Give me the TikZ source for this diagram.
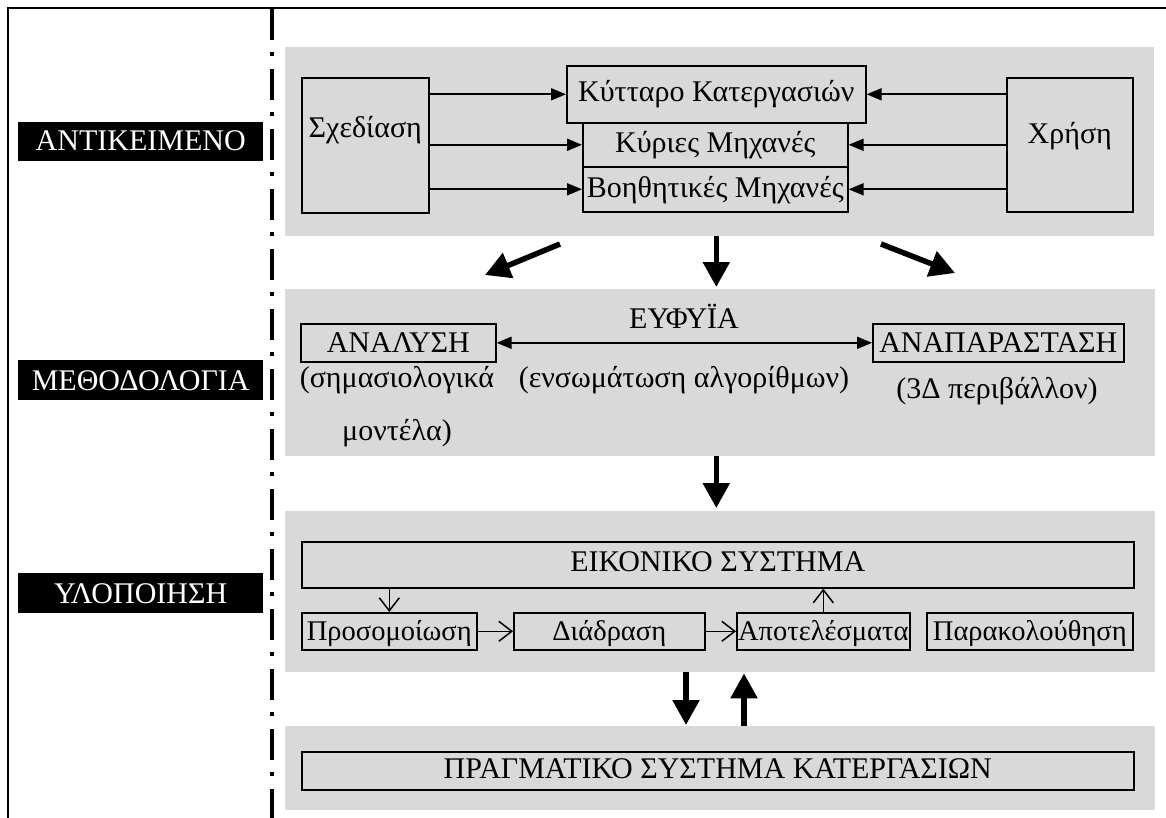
\documentclass[tikz,border=0pt]{standalone}
\usepackage{fontspec}
\setmainfont{Liberation Serif}
\usetikzlibrary{arrows.meta}
\definecolor{panelgray}{HTML}{D9D9D9}
\newcommand\bigtxt{\fontsize{30pt}{36pt}\selectfont}
\newcommand\rowtxt{\fontsize{28.5pt}{34pt}\selectfont}
\begin{document}
\begin{tikzpicture}[x=1pt,y=-1pt,
  panel/.style={fill=panelgray, inner sep=0pt, anchor=north west},
  bx/.style={draw, line width=1.6pt, inner sep=0pt, anchor=north west, font=\bigtxt},
  rowbx/.style={bx, font=\rowtxt, text height=28pt, text depth=9pt},
  tag/.style={fill=black, text=white, inner sep=0pt, anchor=north west, font=\bigtxt,
    minimum width=245pt},
  txt/.style={font=\bigtxt, inner sep=0pt, anchor=base},
  flowarr/.style={line width=1.8pt, -{Triangle[length=15pt,width=12pt]}},
  twoarr/.style={line width=1.8pt, {Triangle[length=15pt,width=12pt]}-{Triangle[length=15pt,width=12pt]}},
  openarr/.style={line width=1.5pt, -{Straight Barb[length=13pt,width=20pt]}},
  bigarr/.style={line width=5.5pt, -{Triangle[length=25pt,width=26pt]}}]
\useasboundingbox (0,0) rectangle (1166,818);

% outer frame (top and left edges) and the dash-dot column separator
\draw[line width=2.2pt] (8,820) -- (8,8) -- (1168,8);
\draw[line width=4pt, dash pattern=on 31pt off 12pt on 4pt off 13pt] (272,9) -- (272,820);

% row labels
\node[tag, text height=28pt, text depth=11pt] (lobj) at (18,122) {ΑΝΤΙΚΕΙΜΕΝΟ};
\node[tag, text height=30pt, text depth=10pt] (lmeth) at (18,360) {ΜΕΘΟΔΟΛΟΓΙΑ};
\node[tag, text height=30pt, text depth=10pt] (limpl) at (18,573) {ΥΛΟΠΟΙΗΣΗ};

% gray panels
\node[panel, minimum width=869pt, minimum height=189pt] (p1) at (285,47) {};
\node[panel, minimum width=870pt, minimum height=167pt] (p2) at (285,289) {};
\node[panel, minimum width=870pt, minimum height=161pt] (p3) at (285,511) {};
\node[panel, minimum width=870pt, minimum height=84pt] (p4) at (285,726) {};

% object: design, use and the machining cell
\node[bx, minimum width=127pt, text height=60pt, text depth=75pt] (sxed) at (301,77) {Σχεδίαση};
\node[bx, minimum width=126pt, text height=66pt, text depth=68pt] (xri) at (1006,77) {Χρήση};
\node[bx, minimum width=299pt, text height=36pt, text depth=21pt] (kyt) at (566,65) {Κύτταρο Κατεργασιών};
\node[bx, minimum width=265pt, text height=30pt, text depth=14pt] (kyr) at (582,122) {Κύριες Μηχανές};
\node[bx, minimum width=265pt, text height=31pt, text depth=14pt] (voi) at (582,166) {Βοηθητικές Μηχανές};

\draw[flowarr] (kyt.west -| sxed.east) -- (kyt.west);
\draw[flowarr] (kyr.west -| sxed.east) -- (kyr.west);
\draw[flowarr] (voi.west -| sxed.east) -- (voi.west);
\draw[flowarr] (kyt.east -| xri.west) -- (kyt.east);
\draw[flowarr] (kyr.east -| xri.west) -- (kyr.east);
\draw[flowarr] (voi.east -| xri.west) -- (voi.east);

% methodology
\node[bx, minimum width=195pt, text height=29pt, text depth=9pt] (anal) at (300,323) {ΑΝΑΛΥΣΗ};
\node[bx, minimum width=251pt, text height=29pt, text depth=9pt] (anap) at (872,323) {ΑΝΑΠΑΡΑΣΤΑΣΗ};
\draw[twoarr] (anal.east) -- (anap.west);
\node[txt] (ai) at (684,328) {ΕΥΦΥΪΑ};
\node[txt] (aialg) at (684,387) {(ενσωμάτωση αλγορίθμων)};
\node[txt] (sem1) at (397,387) {(σημασιολογικά};
\node[txt] (sem2) at (397,440) {μοντέλα)};
\node[txt] (env) at (997,398) {(3Δ περιβάλλον)};

% implementation: virtual system
\node[bx, minimum width=832pt, text height=30pt, text depth=16pt] (eik) at (301,541) {ΕΙΚΟΝΙΚΟ ΣΥΣΤΗΜΑ};
\node[rowbx, minimum width=175pt] (pros) at (301,612) {Προσομοίωση};
\node[rowbx, minimum width=191pt] (diad) at (513,612) {Διάδραση};
\node[rowbx, minimum width=173pt] (apot) at (736,612) {Αποτελέσματα};
\node[rowbx, minimum width=206pt] (para) at (926,612) {Παρακολούθηση};
\draw[openarr] (pros.north |- eik.south) -- (pros.north);
\draw[openarr] (pros.east) -- (diad.west);
\draw[openarr] (diad.east) -- (apot.west);
\draw[openarr] (apot.north) -- (apot.north |- eik.south);

% real machining system
\node[bx, minimum width=832pt, text height=27pt, text depth=11pt] (prag) at (301,751) {ΠΡΑΓΜΑΤΙΚΟ ΣΥΣΤΗΜΑ ΚΑΤΕΡΓΑΣΙΩΝ};

% flow between the rows
\coordinate (dl0) at (560,244);
\coordinate (dl1) at (485,275);
\coordinate (dr0) at (881,244);
\coordinate (dr1) at (955,273);
\coordinate (xd) at (686,0);
\coordinate (xu) at (744,0);
\draw[bigarr] (dl0) -- (dl1);
\draw[bigarr] (dr0) -- (dr1);
\draw[bigarr, shorten >=2pt] (p1.south -| kyt.south) -- (p2.north -| kyt.south);
\draw[bigarr, shorten >=3pt] (p2.south -| kyt.south) -- (p3.north -| kyt.south);
\draw[bigarr, shorten >=1pt] (p3.south -| xd) -- (p4.north -| xd);
\draw[bigarr, shorten >=1pt] (p4.north -| xu) -- (p3.south -| xu);
\end{tikzpicture}
\end{document}
